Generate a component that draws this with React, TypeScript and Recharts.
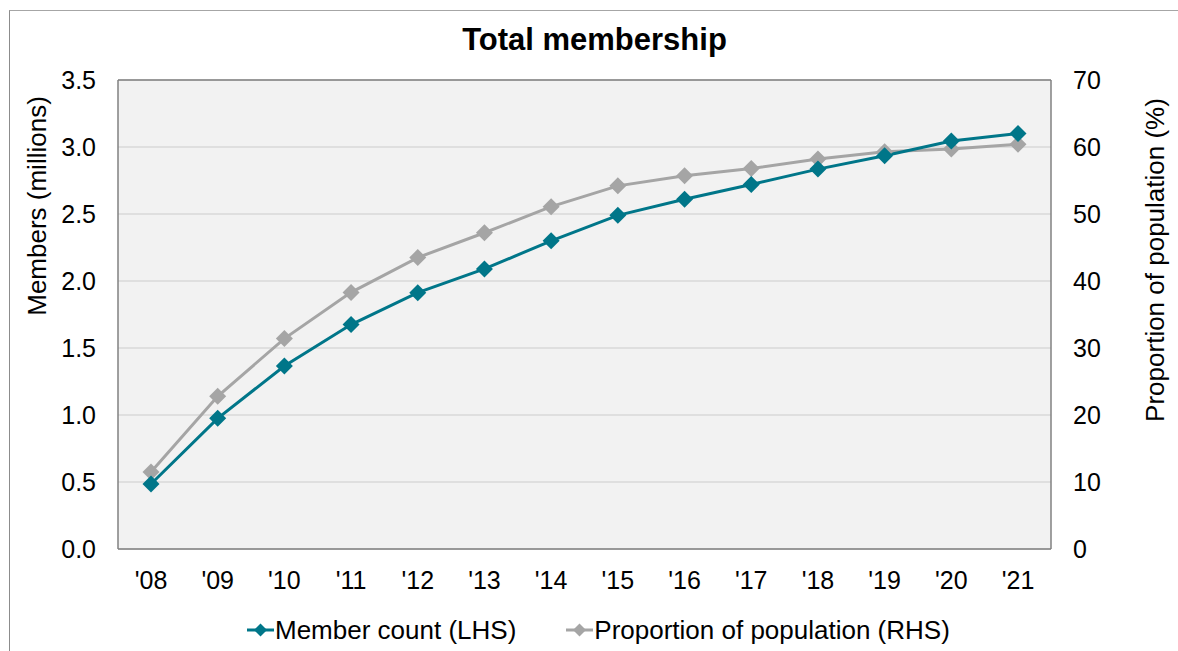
import React from 'react';
import { LineChart, Line, XAxis, YAxis, CartesianGrid, Legend, ReferenceLine } from 'recharts';

const years = ["'08", "'09", "'10", "'11", "'12", "'13", "'14", "'15", "'16", "'17", "'18", "'19", "'20", "'21"];
const memberCount = [0.485, 0.975, 1.366, 1.675, 1.913, 2.09, 2.3, 2.49, 2.61, 2.72, 2.835, 2.935, 3.045, 3.1];
const populationShare = [11.5, 22.8, 31.4, 38.3, 43.5, 47.2, 51.1, 54.2, 55.7, 56.8, 58.2, 59.3, 59.7, 60.4];
const leftTicks = [0, 0.5, 1, 1.5, 2, 2.5, 3, 3.5];
const rightTicks = [0, 10, 20, 30, 40, 50, 60, 70];

const TEAL = '#007689';
const GREY = '#A5A5A5';
const FONT = '"Liberation Sans", Arial, sans-serif';

const data = years.map((year, i) => ({
  year,
  members: memberCount[i],
  share: populationShare[i],
}));

// excel-style diamond marker
const diamond = (color: string, r: number) => (props: any) => {
  const { cx, cy, index } = props;
  if (cx == null || cy == null) return <g key={`d-${index}`} />;
  return (
    <path
      key={`d-${index}`}
      d={`M${cx},${cy - r}L${cx + r},${cy}L${cx},${cy + r}L${cx - r},${cy}Z`}
      fill={color}
    />
  );
};

const LegendIcon = ({ color }: { color: string }) => (
  <svg width={27} height={16} style={{ display: 'block' }}>
    <line x1={0} y1={8} x2={27} y2={8} stroke={color} strokeWidth={3} />
    <path d="M13.5,1.5L20,8L13.5,14.5L7,8Z" fill={color} />
  </svg>
);

const renderLegend = () => (
  <div
    style={{
      display: 'flex',
      alignItems: 'center',
      paddingLeft: 247,
      height: 36,
      fontFamily: FONT,
      fontSize: 26,
      color: '#000',
    }}
  >
    <LegendIcon color={TEAL} />
    <span style={{ marginLeft: 1, marginRight: 50 }}>Member count (LHS)</span>
    <LegendIcon color={GREY} />
    <span style={{ marginLeft: 1 }}>Proportion of population (RHS)</span>
  </div>
);

const leftTitle = () => (
  <text
    x={37}
    y={206}
    transform="rotate(-90 37 206)"
    textAnchor="middle"
    dominantBaseline="central"
    fontFamily={FONT}
    fontSize={26}
    fill="#000"
  >
    Members (millions)
  </text>
);

const rightTitle = () => (
  <text
    x={1155}
    y={260}
    transform="rotate(-90 1155 260)"
    textAnchor="middle"
    dominantBaseline="central"
    fontFamily={FONT}
    fontSize={26}
    fill="#000"
  >
    Proportion of population (%)
  </text>
);

const tickStyle = { fill: '#000', fontSize: 25, fontFamily: FONT };

export default function App() {
  return (
    <div style={{ position: 'absolute', left: 0, top: 0, width: 1178, height: 651, overflow: 'hidden', background: '#fff' }}>
      <div
        style={{
          position: 'absolute',
          left: 9,
          top: 10,
          width: 1300,
          height: 800,
          borderTop: '1px solid #A6A6A6',
          borderLeft: '1px solid #8C8C8C',
        }}
      />
      <div
        style={{
          position: 'absolute',
          left: 0,
          top: 25,
          width: 1189,
          textAlign: 'center',
          fontFamily: FONT,
          fontWeight: 'bold',
          fontSize: 31,
          lineHeight: '30px',
        }}
      >
        Total membership
      </div>
      <div style={{ position: 'absolute', left: 0, top: 0 }}>
        <LineChart width={1178} height={651} data={data} margin={{ top: 80, right: 0, bottom: 42, left: 0 }}>
          <CartesianGrid vertical={false} stroke="#D9D9D9" strokeWidth={1.5} fill="#F2F2F2" yAxisId="left" />
          <XAxis
            dataKey="year"
            height={60}
            padding={{ left: 33, right: 33 }}
            tickLine={false}
            tickSize={0}
            tickMargin={22}
            axisLine={{ stroke: '#808080', strokeWidth: 1.5 }}
            tick={tickStyle}
            interval={0}
          />
          <YAxis
            yAxisId="left"
            orientation="left"
            width={118}
            domain={[0, 3.5]}
            ticks={leftTicks}
            tickFormatter={(v: number) => v.toFixed(1)}
            tickLine={false}
            tickSize={0}
            tickMargin={22}
            axisLine={{ stroke: '#808080', strokeWidth: 1.5 }}
            tick={tickStyle}
            label={leftTitle}
          />
          <YAxis
            yAxisId="right"
            orientation="right"
            width={127}
            domain={[0, 70]}
            ticks={rightTicks}
            tickLine={false}
            tickSize={0}
            tickMargin={22}
            axisLine={{ stroke: '#808080', strokeWidth: 1.5 }}
            tick={tickStyle}
            label={rightTitle}
          />
          <ReferenceLine yAxisId="left" y={3.5} stroke="#808080" strokeWidth={1.5} />
          <Legend
            layout="horizontal"
            verticalAlign="middle"
            align="center"
            content={renderLegend}
            wrapperStyle={{ top: 612, left: 0, width: 1178, height: 36 }}
          />
          <Line
            yAxisId="right"
            dataKey="share"
            name="Proportion of population (RHS)"
            type="linear"
            stroke={GREY}
            strokeWidth={3}
            dot={diamond(GREY, 8.5)}
            activeDot={false}
            isAnimationActive={false}
          />
          <Line
            yAxisId="left"
            dataKey="members"
            name="Member count (LHS)"
            type="linear"
            stroke={TEAL}
            strokeWidth={3}
            dot={diamond(TEAL, 8.5)}
            activeDot={false}
            isAnimationActive={false}
          />
        </LineChart>
      </div>
    </div>
  );
}
